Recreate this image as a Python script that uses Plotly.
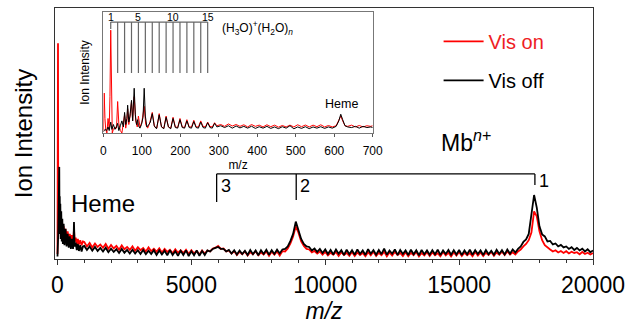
import plotly.graph_objects as go

FONT = "Arial, Liberation Sans, sans-serif"

# ---------------- main spectrum (m/z 0 - 20000) ----------------
main_mz_low = [0, 10, 19, 28, 40, 55, 66, 75, 85, 95, 106, 120, 140, 160, 180, 200, 230, 260,
               300, 340, 380, 420, 460, 500, 540, 580, 600, 616, 640, 680, 720, 760, 800, 850, 900, 950]
main_red_low = [0.02, 0.30, 0.86, 0.12, 0.22, 0.13, 0.20, 0.12, 0.18, 0.11, 0.17, 0.10, 0.15, 0.09,
                0.14, 0.09, 0.13, 0.08, 0.12, 0.08, 0.11, 0.07, 0.10, 0.07, 0.095, 0.065, 0.09, 0.12,
                0.07, 0.085, 0.06, 0.08, 0.058, 0.075, 0.055, 0.07]
main_black_low = [0.01, 0.03, 0.06, 0.10, 0.18, 0.26, 0.367, 0.15, 0.25, 0.10, 0.22, 0.08, 0.19, 0.07,
                  0.16, 0.06, 0.14, 0.055, 0.12, 0.05, 0.10, 0.045, 0.09, 0.04, 0.08, 0.04, 0.07, 0.147,
                  0.05, 0.065, 0.035, 0.06, 0.032, 0.055, 0.03, 0.05]

main_mz_high = list(range(1000, 20001, 100))
main_red_high = [
    0.068, 0.050, 0.064, 0.046, 0.062, 0.048, 0.058, 0.045, 0.060, 0.041,
    0.056, 0.042, 0.052, 0.037, 0.054, 0.039, 0.048, 0.036, 0.050, 0.033,
    0.047, 0.035, 0.044, 0.030, 0.046, 0.031, 0.041, 0.029, 0.043, 0.026,
    0.040, 0.028, 0.037, 0.023, 0.039, 0.025, 0.035, 0.024, 0.037, 0.020,
    0.035, 0.023, 0.032, 0.018, 0.034, 0.022, 0.034, 0.030, 0.042, 0.045,
    0.052, 0.040, 0.042, 0.030, 0.034, 0.022, 0.031, 0.016, 0.029, 0.019,
    0.030, 0.014, 0.027, 0.019, 0.031, 0.015, 0.026, 0.018, 0.030, 0.013,
    0.029, 0.017, 0.030, 0.014, 0.031, 0.030, 0.042, 0.062, 0.090, 0.130,
    0.105, 0.070, 0.052, 0.040, 0.038, 0.026, 0.032, 0.022, 0.030, 0.017,
    0.028, 0.014, 0.025, 0.017, 0.028, 0.012, 0.027, 0.016, 0.024, 0.013,
    0.028, 0.012, 0.026, 0.016, 0.024, 0.011, 0.027, 0.015, 0.029, 0.012,
    0.025, 0.015, 0.029, 0.011, 0.026, 0.014, 0.028, 0.016, 0.024, 0.012,
    0.027, 0.011, 0.025, 0.015, 0.028, 0.010, 0.024, 0.014, 0.027, 0.012,
    0.026, 0.015, 0.023, 0.011, 0.028, 0.014, 0.025, 0.010, 0.026, 0.014,
    0.028, 0.012, 0.025, 0.015, 0.024, 0.011, 0.028, 0.014, 0.026, 0.012,
    0.025, 0.016, 0.028, 0.013, 0.026, 0.017, 0.029, 0.016, 0.030, 0.018,
    0.027, 0.018, 0.030, 0.038, 0.050, 0.060, 0.075, 0.105, 0.190, 0.170,
    0.110, 0.075, 0.055, 0.045, 0.038, 0.030, 0.035, 0.026, 0.032, 0.024,
    0.031, 0.022, 0.029, 0.024, 0.027, 0.019, 0.028, 0.020, 0.025, 0.018,
    0.024]
main_black_high = [
    0.052, 0.036, 0.050, 0.033, 0.048, 0.032, 0.044, 0.030, 0.045, 0.027,
    0.041, 0.028, 0.039, 0.024, 0.040, 0.025, 0.036, 0.022, 0.037, 0.022,
    0.035, 0.020, 0.036, 0.019, 0.033, 0.020, 0.035, 0.016, 0.034, 0.018,
    0.033, 0.015, 0.035, 0.016, 0.031, 0.013, 0.033, 0.016, 0.034, 0.012,
    0.031, 0.015, 0.034, 0.013, 0.032, 0.016, 0.034, 0.030, 0.040, 0.044,
    0.048, 0.040, 0.040, 0.030, 0.036, 0.022, 0.035, 0.018, 0.034, 0.020,
    0.033, 0.016, 0.036, 0.019, 0.034, 0.015, 0.035, 0.020, 0.037, 0.017,
    0.035, 0.020, 0.037, 0.022, 0.038, 0.040, 0.050, 0.072, 0.100, 0.149,
    0.110, 0.080, 0.060, 0.050, 0.048, 0.034, 0.042, 0.028, 0.040, 0.024,
    0.038, 0.020, 0.036, 0.018, 0.038, 0.021, 0.035, 0.016, 0.037, 0.019,
    0.035, 0.017, 0.038, 0.020, 0.034, 0.016, 0.039, 0.021, 0.035, 0.017,
    0.036, 0.019, 0.041, 0.017, 0.034, 0.021, 0.038, 0.016, 0.036, 0.020,
    0.034, 0.016, 0.037, 0.019, 0.035, 0.015, 0.036, 0.019, 0.034, 0.017,
    0.035, 0.019, 0.037, 0.016, 0.034, 0.020, 0.036, 0.017, 0.035, 0.018,
    0.036, 0.016, 0.034, 0.019, 0.037, 0.017, 0.035, 0.020, 0.034, 0.016,
    0.036, 0.019, 0.033, 0.017, 0.037, 0.020, 0.035, 0.018, 0.038, 0.021,
    0.038, 0.026, 0.040, 0.050, 0.068, 0.078, 0.100, 0.170, 0.255, 0.205,
    0.130, 0.098, 0.090, 0.070, 0.072, 0.058, 0.062, 0.050, 0.056, 0.046,
    0.050, 0.040, 0.047, 0.036, 0.044, 0.034, 0.041, 0.030, 0.039, 0.027,
    0.034]

main_mz = main_mz_low + main_mz_high
main_red = main_red_low + main_red_high
main_black = main_black_low + main_black_high

# Mb charge-state ladder
mb_charge = ["1", "2", "3"]
mb_mz = [17830, 8916, 5944]
mb_ladder_y = 0.339
mb_line_bottom = [0.295, 0.235, 0.227]
main_ticks = [0, 5000, 10000, 15000, 20000]
main_ticktext = ["0", "5000", "10000", "15000", "20000"]

# ---------------- inset spectrum (m/z 0 - 700) ----------------
inset_red_mz = [0, 2, 4, 6, 9, 12, 15, 17, 19, 21, 23, 26, 30, 34, 37, 40, 44, 48, 52, 55, 58, 61, 63,
                66, 70, 73, 76, 80, 84, 88, 91, 95, 100, 106, 110, 115, 120, 127, 133, 139, 145, 151,
                157, 163, 169, 175, 181, 187, 193, 199, 205, 211, 217, 223, 229, 235, 241, 247, 253,
                259, 265, 271, 277, 283, 289, 295, 305, 315, 325, 335, 345, 355, 365, 375, 385, 395,
                405, 415, 425, 435, 445, 455, 465, 475, 485, 495, 505, 515, 525, 535, 545, 555, 565,
                575, 585, 595, 605, 612, 617, 622, 628, 635, 645, 655, 665, 675, 685, 695, 700]
inset_red = [0.02, 0.33, 0.12, 0.03, 0.0, 0.12, 0.04, 0.30, 0.85, 0.30, 0.0, 0.03, 0.05, 0.04, 0.26,
             0.08, 0.02, 0.0, 0.08, 0.15, 0.04, 0.10, 0.20, 0.07, 0.16, 0.26, 0.10, 0.30, 0.10, 0.05,
             0.14, 0.05, 0.09, 0.22, 0.07, 0.04, 0.08, 0.17, 0.05, 0.04, 0.16, 0.05, 0.04, 0.14, 0.05,
             0.04, 0.13, 0.05, 0.045, 0.12, 0.05, 0.045, 0.11, 0.05, 0.05, 0.105, 0.05, 0.05, 0.10,
             0.055, 0.05, 0.09, 0.055, 0.05, 0.085, 0.06, 0.07, 0.055, 0.075, 0.058, 0.07, 0.055,
             0.068, 0.05, 0.07, 0.055, 0.065, 0.05, 0.068, 0.052, 0.065, 0.048, 0.062, 0.05, 0.065,
             0.05, 0.068, 0.052, 0.066, 0.05, 0.065, 0.052, 0.068, 0.05, 0.062, 0.05, 0.06, 0.10,
             0.14, 0.10, 0.06, 0.055, 0.065, 0.05, 0.062, 0.05, 0.06, 0.055, 0.06]
inset_black_mz = [0, 4, 8, 12, 15, 19, 22, 26, 30, 34, 37, 40, 44, 48, 52, 55, 58, 61, 63, 66, 69, 73,
                  76, 80, 83, 86, 89, 91, 95, 99, 103, 106, 109, 113, 118, 122, 127, 132, 138, 145,
                  151, 157, 163, 169, 175, 181, 187, 193, 199, 205, 211, 217, 223, 229, 235, 241, 247,
                  253, 259, 265, 271, 277, 283, 289, 295, 305, 315, 325, 335, 345, 355, 365, 375, 385,
                  395, 405, 415, 425, 435, 445, 455, 465, 475, 485, 495, 505, 515, 525, 535, 545, 555,
                  565, 575, 585, 595, 605, 612, 617, 622, 628, 635, 645, 655, 665, 675, 685, 695, 700]
inset_black = [0.01, 0.03, 0.02, 0.05, 0.02, 0.09, 0.03, 0.07, 0.03, 0.05, 0.08, 0.02, 0.06, 0.10,
               0.05, 0.17, 0.07, 0.12, 0.23, 0.09, 0.14, 0.27, 0.10, 0.37, 0.15, 0.07, 0.11, 0.06,
               0.04, 0.07, 0.13, 0.37, 0.14, 0.05, 0.07, 0.09, 0.16, 0.06, 0.035, 0.15, 0.05, 0.035,
               0.13, 0.05, 0.035, 0.12, 0.045, 0.04, 0.11, 0.045, 0.04, 0.10, 0.045, 0.04, 0.095,
               0.045, 0.04, 0.09, 0.045, 0.04, 0.085, 0.045, 0.04, 0.08, 0.05, 0.06, 0.045, 0.06,
               0.04, 0.058, 0.042, 0.055, 0.04, 0.056, 0.038, 0.052, 0.04, 0.055, 0.038, 0.05,
               0.036, 0.052, 0.04, 0.06, 0.035, 0.05, 0.038, 0.052, 0.036, 0.05, 0.04, 0.052, 0.038,
               0.05, 0.04, 0.055, 0.10, 0.155, 0.11, 0.06, 0.05, 0.045, 0.055, 0.04, 0.055, 0.045,
               0.05, 0.045]

# water cluster ladder (H3O)+(H2O)n
water_n = list(range(1, 16))
water_mz = [19, 37, 55, 73, 91, 109, 127, 145, 163, 181, 199, 217, 235, 253, 271]
water_labels = {1: "1", 5: "5", 10: "10", 15: "15"}
water_top = 0.917
water_bottom = 0.496
inset_ticks = [0, 100, 200, 300, 400, 500, 600, 700]

RED = "#ff0000"
BLACK = "#000000"

fig = go.Figure()
fig.add_trace(go.Scatter(x=main_mz, y=main_red, mode="lines", line=dict(color=RED, width=1.8),
                         name='<span style="color:#ee1d24">Vis on</span>', legendgroup="on"))
fig.add_trace(go.Scatter(x=main_mz, y=main_black, mode="lines", line=dict(color=BLACK, width=1.8),
                         name="Vis off", legendgroup="off"))
fig.add_trace(go.Scatter(x=inset_red_mz, y=inset_red, mode="lines", line=dict(color=RED, width=1),
                         xaxis="x2", yaxis="y2", showlegend=False))
fig.add_trace(go.Scatter(x=inset_black_mz, y=inset_black, mode="lines", line=dict(color=BLACK, width=1),
                         xaxis="x2", yaxis="y2", showlegend=False))

shapes = []
annotations = []
# Mb ladder
shapes.append(dict(type="line", xref="x", yref="y", x0=min(mb_mz), x1=max(mb_mz),
                   y0=mb_ladder_y, y1=mb_ladder_y, line=dict(color="black", width=1.3)))
for q, mz, yb in zip(mb_charge, mb_mz, mb_line_bottom):
    shapes.append(dict(type="line", xref="x", yref="y", x0=mz, x1=mz, y0=yb, y1=mb_ladder_y,
                       line=dict(color="black", width=1.3)))
    annotations.append(dict(x=mz, y=mb_ladder_y - (0.03 if q == "1" else 0.048), xref="x", yref="y",
                            text=q, showarrow=False, xanchor="left", xshift=2,
                            font=dict(size=18, color="black", family=FONT)))

# water ladder
shapes.append(dict(type="line", xref="x2", yref="y2", x0=water_mz[0], x1=water_mz[-1],
                   y0=water_top, y1=water_top, line=dict(color="#666", width=1.2)))
for n, mz in zip(water_n, water_mz):
    yb = 0.86 if n == 1 else water_bottom
    shapes.append(dict(type="line", xref="x2", yref="y2", x0=mz, x1=mz, y0=yb, y1=water_top,
                       line=dict(color="#666", width=1.2)))
    if n in water_labels:
        annotations.append(dict(x=mz, y=water_top, xref="x2", yref="y2", text=water_labels[n],
                                showarrow=False, yanchor="bottom", yshift=-3,
                                font=dict(size=10.5, color="black", family=FONT)))

annotations += [
    dict(x=303, y=0.87, xref="x2", yref="y2", xanchor="left",
         text="(H<sub>3</sub>O)<sup>+</sup>(H<sub>2</sub>O)<sub><i>n</i></sub>", showarrow=False,
         font=dict(size=12, color="black", family=FONT)),
    dict(x=620, y=0.24, xref="x2", yref="y2", text="Heme", showarrow=False,
         font=dict(size=12.5, color="black", family=FONT)),
    dict(x=420, y=0.223, xref="x", yref="y", text="Heme", showarrow=False, xanchor="left",
         font=dict(size=24, color="black", family=FONT)),
    dict(x=0.713, y=0.47, xref="paper", yref="paper", text="Mb<sup><i>n</i>+</sup>", showarrow=False,
         xanchor="left", font=dict(size=23, color="black", family=FONT)),
]

fig.update_layout(
    width=633, height=326,
    margin=dict(l=55, r=40, t=8, b=67),
    paper_bgcolor="white", plot_bgcolor="white",
    font=dict(family=FONT, color="black"),
    showlegend=True,
    legend=dict(x=0.713, y=0.945, xanchor="left", yanchor="top", bgcolor="rgba(0,0,0,0)",
                font=dict(size=20, family=FONT, color="black"), tracegroupgap=10, itemwidth=40),
    xaxis=dict(domain=[0, 1], range=[-93, 20000], tickvals=main_ticks, ticktext=main_ticktext,
               showgrid=False, zeroline=False, automargin=False,
               showline=True, linecolor="#333", linewidth=1, mirror=True,
               ticks="outside", ticklen=5, tickcolor="#333",
               minor=dict(dtick=1000, ticks="outside", ticklen=3, tickcolor="#333"),
               tickfont=dict(size=23, family=FONT),
               title=dict(text="<i>m/z</i>", font=dict(size=23, family=FONT), standoff=2)),
    yaxis=dict(domain=[0, 1], range=[0, 1], showticklabels=False, showgrid=False, zeroline=False,
               automargin=False,
               showline=True, linecolor="#333", linewidth=1, mirror=True, ticks="",
               title=dict(text="Ion Intensity", font=dict(size=24, family=FONT), standoff=14)),
    xaxis2=dict(domain=[0.090, 0.5905], anchor="y2", range=[0, 700], tickvals=inset_ticks,
                showgrid=False, zeroline=False, showline=True, linecolor="#777", linewidth=1,
                mirror=True, ticks="outside", ticklen=3, tickcolor="#555", automargin=False,
                ticklabelstandoff=4,
                tickfont=dict(size=12, family=FONT),
                title=dict(text="m/z", font=dict(size=12, family=FONT), standoff=2)),
    yaxis2=dict(domain=[0.502, 0.984], anchor="x2", range=[0, 1], showticklabels=False,
                showgrid=False, zeroline=False, showline=True, linecolor="#777", linewidth=1,
                mirror=True, ticks="", automargin=False,
                title=dict(text="Ion Intensity", font=dict(size=12, family=FONT), standoff=10)),
    shapes=shapes,
    annotations=annotations,
)

fig.write_html("out.html", config={"displayModeBar": False},
               post_script="document.body.style.margin='0px';")
